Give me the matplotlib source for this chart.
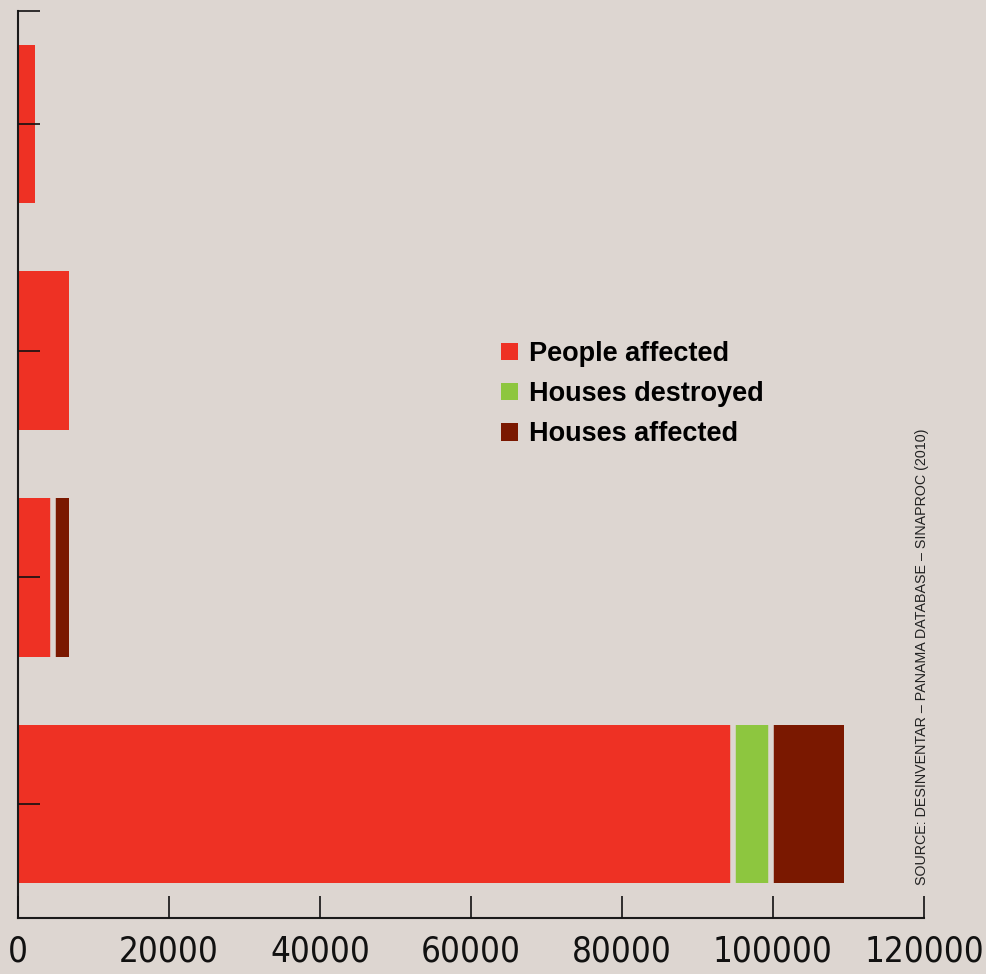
import matplotlib
matplotlib.use("Agg")
import matplotlib.pyplot as plt
from matplotlib import font_manager as fm
from matplotlib.patches import Patch
import numpy as np

# Data (bottom bar first)
events = ["Event A", "Event B", "Event C", "Event D"]
people_affected = [94700, 4570, 6750, 2250]
houses_destroyed = [5030, 0, 0, 0]
houses_affected = [9670, 2180, 0, 0]
series_labels = ["People affected", "Houses destroyed", "Houses affected"]
xticks = [0, 20000, 40000, 60000, 80000, 100000, 120000]
source = "SOURCE: DESINVENTAR – PANAMA DATABASE – SINAPROC (2010)"

BG = "#DDD6D1"
colors = ["#EE3124", "#8DC63F", "#7A1800"]

# look for a condensed face for the tick labels
cond = None
for f in fm.fontManager.ttflist:
    nm = f.name.lower()
    st = str(f.stretch).lower()
    if ("narrow" in nm or "condensed" in nm or "condensed" in st) and f.style == "normal":
        w = f.weight if isinstance(f.weight, (int, float)) else (700 if "bold" in str(f.weight) else 400)
        if w <= 400:
            cond = f.fname
            break
if cond:
    tick_fp = fm.FontProperties(fname=cond, size=25)
else:
    tick_fp = fm.FontProperties(family="Liberation Sans", size=24.5)

fig = plt.figure(figsize=(9.87, 9.74), dpi=100, facecolor=BG)
ax = fig.add_axes([18 / 987, 1 - 917.5 / 974, (924 - 18) / 987, (917.5 - 10.5) / 974])
ax.set_facecolor(BG)
ax.set_axisbelow(False)

y = np.arange(len(events))
h = 0.7
left = np.zeros(len(events))
bounds = []
series = [people_affected, houses_destroyed, houses_affected]
for i, (vals, col, lab) in enumerate(zip(series, colors, series_labels)):
    v = np.array(vals, dtype=float)
    ax.barh(y, v, left=left, height=h, color=col, edgecolor="none", label=lab, zorder=2)
    left += v
    for j in range(len(events)):
        rest = sum(series[k][j] for k in range(i + 1, len(series)))
        if v[j] > 0 and rest > 0:
            bounds.append((left[j], y[j]))

if bounds:
    bx = [b[0] for b in bounds]
    by = [b[1] for b in bounds]
    ax.vlines(bx, np.array(by) - h / 2 - 0.01, np.array(by) + h / 2 + 0.01,
              colors=BG, linewidth=4.0, zorder=2.2, capstyle="butt")

ax.set_xlim(0, 120000)
ax.set_ylim(-0.5, 3.5)
ax.set_xticks(xticks)
ax.set_xticklabels([str(t) for t in xticks])
for lbl in ax.get_xticklabels():
    lbl.set_fontproperties(tick_fp)
    lbl.set_color("#111111")
ax.set_yticks(list(y) + [3.5])
ax.set_yticklabels([])
ax.tick_params(axis="x", direction="in", length=16, width=1.2, color="#111111", pad=12)
ax.tick_params(axis="y", direction="in", length=16, width=1.2, color="#111111")
for s in ["top", "right"]:
    ax.spines[s].set_visible(False)
for s in ["left", "bottom"]:
    ax.spines[s].set_color("#1a1a1a")
    ax.spines[s].set_linewidth(1.5)

# Legend
leg_handles = [Patch(facecolor=c, edgecolor="none") for c in colors]
fig.legend(leg_handles, series_labels, loc="upper left", bbox_to_anchor=(501 / 987, 1 - 341 / 974),
           frameon=False, prop={"family": "Liberation Sans", "weight": "bold", "size": 19.5},
           handlelength=0.63, handleheight=0.63, handletextpad=0.4, labelspacing=0.52,
           borderaxespad=0, borderpad=0)

fig.text(922 / 987, 1 - 885 / 974, source, rotation=90, ha="center", va="bottom",
         fontsize=10.3, family="Liberation Sans", color="#222222")

fig.savefig("out.png", dpi=100, facecolor=BG)
